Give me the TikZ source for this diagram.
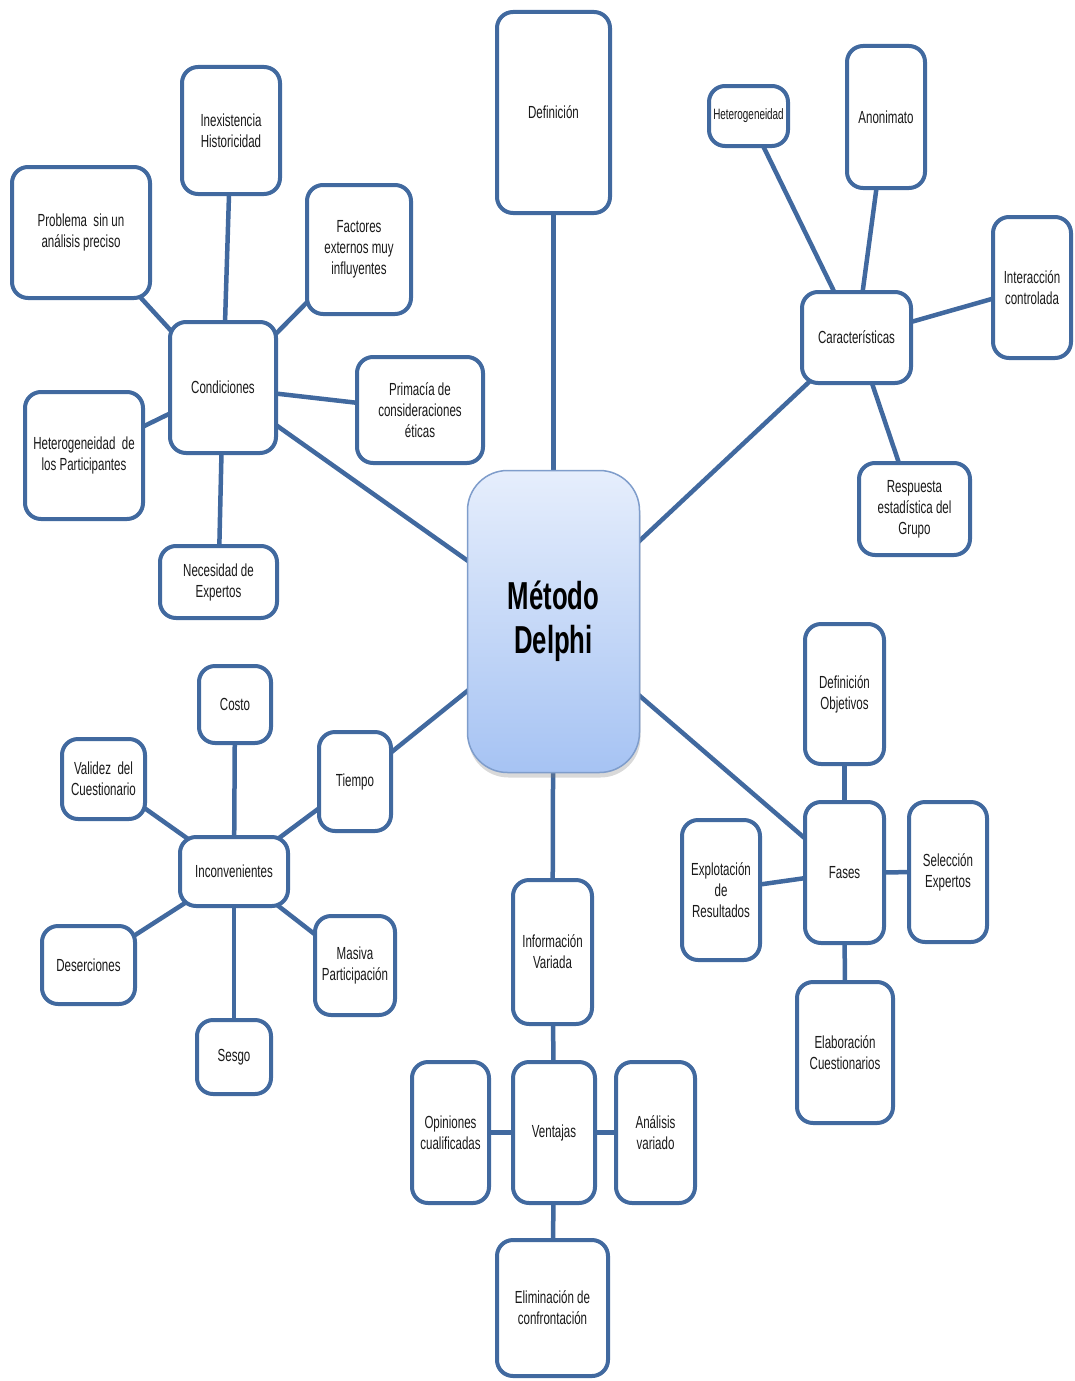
\documentclass[tikz,border=0pt]{standalone}
\usepackage{fontspec}
\setmainfont{Liberation Sans}[FakeStretch=0.66]
\usetikzlibrary{shadows}
\pgfdeclarelayer{background}
\pgfsetlayers{background,main}
\definecolor{bord}{HTML}{41699F}
\definecolor{txt}{HTML}{1A1A1A}
\definecolor{gtop}{HTML}{E6EEFC}
\definecolor{gbot}{HTML}{A6C3F3}
\definecolor{mbord}{HTML}{7F9DCB}
\tikzset{
  box/.style={draw=bord, line width=4pt, rounded corners=16pt, fill=white,
    align=center, text=txt, inner sep=2pt,
    font=\fontsize{17.5}{21}\selectfont},
  small/.style={font=\fontsize{15}{18}\selectfont},
  link/.style={draw=bord, line width=4.5pt},
  hub/.style={draw=mbord, line width=1.5pt, rounded corners=40pt,
    top color=gtop, bottom color=gbot, align=center, text=black,
    font=\fontsize{39}{44}\selectfont\bfseries,
    drop shadow={shadow xshift=1pt, shadow yshift=-5pt, opacity=0.3, fill=gray}},
}
\newcommand{\bx}[6][]{\node[box,#1, minimum width=#4pt, minimum height=#5pt] (#2) at (#3) {#6};}
\begin{document}
\begin{tikzpicture}[x=1pt,y=-1pt]
\useasboundingbox (0,0) rectangle (1075,1381);

% hub
\node[hub, minimum width=172pt, minimum height=302pt] (met) at (553.5,621.5) {Método\\Delphi};

% top
\bx{defn}{553.5,112.5}{113}{201}{Definición}
% Caracteristicas group
\bx{carac}{856.5,337.5}{109}{91}{Características}
\bx[small]{hetr}{748.5,116}{79}{60}{Heterogeneidad}
\bx{anon}{886,117}{78}{142}{Anonimato}
\bx{inter}{1032,287.5}{78}{141}{Interacción\\controlada}
\bx{resp}{914.5,509}{111}{92}{Respuesta\\estadística del\\Grupo}
% Condiciones group
\bx{cond}{223,387.5}{106}{131}{Condiciones}
\bx{inex}{231,130.5}{98}{127}{Inexistencia\\Historicidad}
\bx{prob}{81,232.5}{138}{131}{Problema\ \ sin un\\análisis preciso}
\bx{fact}{359,249.5}{104}{129}{Factores\\externos muy\\influyentes}
\bx{prim}{420,410}{126}{106}{Primacía de\\consideraciones\\éticas}
\bx{hetp}{84,455.5}{118}{127}{Heterogeneidad\ \ de\\los Participantes}
\bx{nec}{218.5,582}{117}{72}{Necesidad de\\Expertos}
% Inconvenientes group
\bx{tiem}{355,781.5}{72}{99}{Tiempo}
\bx{inc}{234,871.5}{108}{69}{Inconvenientes}
\bx{cost}{235,704.5}{72}{77}{Costo}
\bx{vali}{103.5,779}{83}{80}{Validez\ \ del\\Cuestionario}
\bx{dese}{88.5,965}{93}{78}{Deserciones}
\bx{masi}{355,965.5}{80}{99}{Masiva\\Participación}
\bx{sesg}{234,1057}{74}{74}{Sesgo}
% Fases group
\bx{fase}{844.5,872.5}{79}{141}{Fases}
\bx{dobj}{844.5,694}{79}{140}{Definición\\Objetivos}
\bx{expl}{721,890}{78}{140}{Explotación\\de\\Resultados}
\bx{sele}{948,872}{78}{140}{Selección\\Expertos}
\bx{elab}{845,1052.5}{96}{141}{Elaboración\\Cuestionarios}
% Ventajas group
\bx{info}{552.5,952}{79}{144}{Información\\Variada}
\bx{vent}{554,1132.5}{82}{141}{Ventajas}
\bx{opin}{450.5,1132.5}{77}{141}{Opiniones\\cualificadas}
\bx{anal}{655.5,1132.5}{79}{141}{Análisis\\variado}
\bx{elim}{552.5,1308}{111}{136}{Eliminación de\\confrontación}

\begin{pgfonlayer}{background}
\draw[link] (met.center) -- (defn.center);
\draw[link] (met.center) -- (carac.center);
\draw[link] (met.center) -- (cond.center);
\draw[link] (met.center) -- (tiem.center);
\draw[link] (met.center) -- (fase.center);
\draw[link] (met.center) -- (info.center);
\draw[link] (carac.center) -- (hetr.center);
\draw[link] (carac.center) -- (anon.center);
\draw[link] (carac.center) -- (inter.center);
\draw[link] (carac.center) -- (resp.center);
\draw[link] (cond.center) -- (inex.center);
\draw[link] (cond.center) -- (prob.center);
\draw[link] (cond.center) -- (fact.center);
\draw[link] (cond.center) -- (prim.center);
\draw[link] (cond.center) -- (hetp.center);
\draw[link] (cond.center) -- (nec.center);
\draw[link] (tiem.center) -- (inc.center);
\draw[link] (inc.center) -- (cost.center);
\draw[link] (inc.center) -- (vali.center);
\draw[link] (inc.center) -- (dese.center);
\draw[link] (inc.center) -- (masi.center);
\draw[link] (inc.center) -- (sesg.center);
\draw[link] (fase.center) -- (dobj.center);
\draw[link] (fase.center) -- (expl.center);
\draw[link] (fase.center) -- (sele.center);
\draw[link] (fase.center) -- (elab.center);
\draw[link] (info.center) -- (vent.center);
\draw[link] (vent.center) -- (opin.center);
\draw[link] (vent.center) -- (anal.center);
\draw[link] (vent.center) -- (elim.center);
\end{pgfonlayer}
\end{tikzpicture}
\end{document}
